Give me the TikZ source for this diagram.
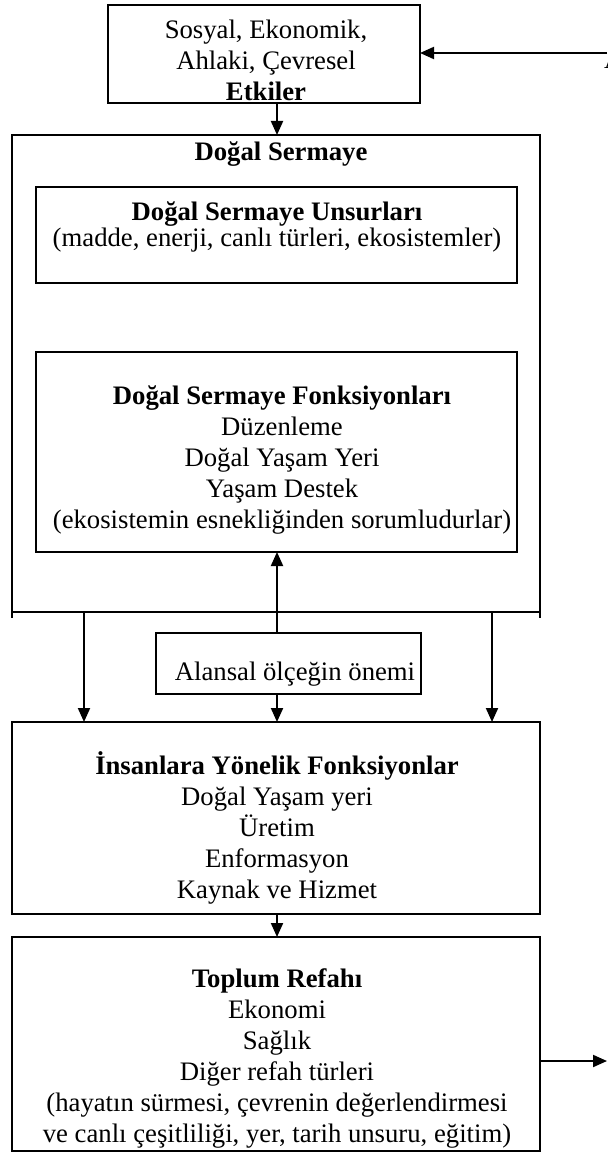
\documentclass[tikz,border=0pt]{standalone}
\usepackage{fontspec}
\setmainfont{Liberation Serif}
\usetikzlibrary{arrows.meta}
\begin{document}
\begin{tikzpicture}[x=0.5pt,y=-0.5pt,line width=1pt,
  box/.style={draw,inner sep=0pt,outer sep=0pt},
  txt/.style={align=center,inner sep=0pt,font=\fontsize{13.35pt}{15.5pt}\selectfont},
  arr/.style={-{Triangle[length=7pt,width=6pt]}}]
\useasboundingbox (0,0) rectangle (607,1154);
% boxes
\node[box,minimum width=156pt,minimum height=49pt] (etk) at (264,54) {};
\node[box,minimum width=264pt,minimum height=238.5pt] (ds) at (276,373.5) {};
\node[box,minimum width=240.5pt,minimum height=48pt] (in1) at (276.5,235) {};
\node[box,minimum width=240.5pt,minimum height=100pt] (in2) at (276.5,452) {};
\node[box,minimum width=132.5pt,minimum height=30.5pt] (al) at (288.5,663.5) {};
\node[box,minimum width=264pt,minimum height=96pt] (b3) at (276,818) {};
\node[box,minimum width=264pt,minimum height=107pt] (b4) at (276,1044) {};
% texts
\node[txt] (etkt) at (266,60) {Sosyal, Ekonomik,\\ Ahlaki, Çevresel\\ \textbf{Etkiler}};
\node[txt] (dst) at (281,154) {\textbf{Doğal Sermaye}};
\node[txt,font=\fontsize{13.35pt}{12pt}\selectfont] (in1t) at (277,227) {\textbf{Doğal Sermaye Unsurları}\\ (madde, enerji, canlı türleri, ekosistemler)};
\node[txt] (in2t) at (282,460) {\textbf{Doğal Sermaye Fonksiyonları}\\ Düzenleme\\ Doğal Yaşam Yeri\\ Yaşam Destek\\ (ekosistemin esnekliğinden sorumludurlar)};
\node[txt] (alt) at (295,674) {Alansal ölçeğin önemi};
\node[txt] (b3t) at (277,828) {\textbf{İnsanlara Yönelik Fonksiyonlar}\\ Doğal Yaşam yeri\\ Üretim\\ Enformasyon\\ Kaynak ve Hizmet};
\node[txt] (b4t) at (277,1058) {\textbf{Toplum Refahı}\\ Ekonomi\\ Sağlık\\ Diğer refah türleri\\ (hayatın sürmesi, çevrenin değerlendirmesi\\ ve canlı çeşitliliği, yer, tarih unsuru, eğitim)};
\node[txt,anchor=base west] (afrag) at (603,69) {A};
% small extensions of the outer box sides
\coordinate (dsl) at (12,618);
\coordinate (dsr) at (540,618);
\draw (ds.south west) -- (dsl);
\draw (ds.south east) -- (dsr);
% helper coordinates
\coordinate (cx) at (277,0);
\coordinate (xl) at (84,0);
\coordinate (xr) at (492,0);
\coordinate (inl) at (607,53);
\coordinate (outr) at (607,1061);
% connectors
\draw[arr] (inl) -- (etk.east |- inl);
\draw[arr] (etk.south -| cx) -- (ds.north -| cx);
\draw[arr] (al.north -| cx) -- (in2.south -| cx);
\draw[arr] (ds.south -| xl) -- (b3.north -| xl);
\draw[arr] (ds.south -| xr) -- (b3.north -| xr);
\draw[arr] (al.south -| cx) -- (b3.north -| cx);
\draw[arr] (b3.south -| cx) -- (b4.north -| cx);
\draw[arr] (b4.east |- outr) -- (outr);
\end{tikzpicture}
\end{document}
